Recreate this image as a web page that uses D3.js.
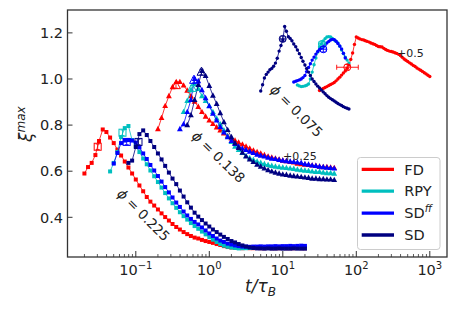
<!DOCTYPE html>
<html><head><meta charset="utf-8">
<script src="https://cdn.jsdelivr.net/npm/d3@7"></script>
<style>
html,body{margin:0;padding:0;background:#fff;}
svg{display:block;font-family:"DejaVu Sans",sans-serif;}
</style></head><body>
<svg id="chart" width="463" height="309"></svg>
<script>
// ---------------- DATA ----------------
// time grids (t / tau_B) for each volume fraction
const t225 = [0.0200,0.0224,0.0251,0.0282,0.0316,0.0355,0.0398,0.0447,0.0501,0.0562,0.0631,0.0708,0.0794,0.0891,0.100,0.112,0.126,0.141,0.158,0.178,0.200,0.224,0.251,0.282,0.316,0.355,0.398,0.447,0.501,0.562,0.631,0.708,0.794,0.891,1.00,1.12,1.26,1.41,1.58,1.78,2.00,2.24,2.51,2.82,3.16,3.55,3.98,4.47,5.01,5.62,6.31,7.08,7.94,8.91,10.0,11.2,12.6,14.1,15.8,17.8,20.0];
const t138 = [0.200,0.224,0.251,0.282,0.316,0.355,0.398,0.447,0.501,0.562,0.631,0.708,0.794,0.891,1.00,1.12,1.26,1.41,1.58,1.78,2.00,2.24,2.51,2.82,3.16,3.55,3.98,4.47,5.01,5.62,6.31,7.08,7.94,8.91,10.0,11.2,12.6,14.1,15.8,17.8,20.0,22.4,25.1,28.2,31.6,35.5,39.8,44.7,50.1];
const t075 = [5.01,5.31,5.62,5.96,6.31,6.68,7.08,7.50,7.94,8.41,8.91,9.44,10.0,10.6,11.2,11.9,12.6,13.3,14.1,15.0,15.8,16.8,17.8,18.8,20.0,21.1,22.4,23.7,25.1,26.6,28.2,29.9,31.6,33.5,35.5,37.6,39.8,42.2,44.7,47.3,50.1,53.1,56.2,59.6,63.1,66.8,70.8,75.0,79.4,84.1,89.1,94.4,100,106,112,119,126,133,141,150,158,168,178,188,200,211,224,237,251,266,282,299,316,335,355,376,398,422,447,473,501,531,562,596,631,668,708,750,794,841,891,944,1000];

// phi = 0.225 (squares)
const fd225 = [0.590,0.618,0.636,0.670,0.731,0.781,0.770,0.746,0.722,0.694,0.668,0.642,0.616,0.590,0.564,0.538,0.513,0.488,0.468,0.451,0.434,0.417,0.401,0.386,0.371,0.358,0.347,0.336,0.327,0.319,0.312,0.308,0.302,0.297,0.293,0.289,0.284,0.280,0.275,0.271,0.269,0.267,0.267,0.266,0.267,0.266,0.266,0.267,0.266,0.266,0.267,0.266,0.266,0.266,0.267,0.266,0.266,0.266,0.267,0.266,0.266];
const rpy225 = [null,null,null,null,null,null,null,0.599,0.636,0.683,0.748,0.787,0.796,0.735,0.709,0.683,0.655,0.630,0.603,0.578,0.553,0.529,0.505,0.482,0.461,0.441,0.422,0.405,0.390,0.375,0.362,0.350,0.338,0.326,0.314,0.303,0.293,0.284,0.277,0.272,0.269,0.267,0.265,0.266,0.266,0.267,0.267,0.267,0.268,0.268,0.268,0.268,0.269,0.268,0.268,0.269,0.268,0.268,0.269,0.268,0.268];
const sdff225 = [null,null,null,null,null,null,null,null,0.633,0.679,0.722,0.733,0.735,0.733,0.724,0.703,0.677,0.653,0.627,0.603,0.579,0.555,0.531,0.508,0.486,0.464,0.445,0.425,0.408,0.393,0.380,0.369,0.356,0.343,0.330,0.319,0.308,0.299,0.293,0.286,0.282,0.278,0.275,0.273,0.273,0.272,0.273,0.273,0.274,0.273,0.274,0.274,0.275,0.274,0.275,0.275,0.276,0.275,0.276,0.277,0.276];
const sd225 = [null,null,null,null,null,null,null,null,null,null,null,null,0.636,0.646,0.705,0.761,0.777,0.757,0.731,0.705,0.677,0.651,0.623,0.594,0.568,0.544,0.516,0.490,0.465,0.442,0.420,0.403,0.388,0.373,0.360,0.347,0.336,0.325,0.315,0.306,0.297,0.291,0.284,0.278,0.273,0.269,0.267,0.265,0.265,0.264,0.265,0.264,0.264,0.265,0.264,0.264,0.264,0.265,0.264,0.264,0.264];

// phi = 0.138 (triangles, shifted by +0.25)
const fd138 = [0.783,0.831,0.883,0.926,0.965,0.987,0.987,0.972,0.950,0.926,0.902,0.879,0.857,0.837,0.820,0.805,0.790,0.777,0.764,0.753,0.742,0.733,0.724,0.716,0.707,0.698,0.690,0.683,0.677,0.670,0.664,0.659,0.655,0.651,0.646,0.644,0.640,0.638,0.633,0.631,0.629,0.627,0.625,0.623,0.620,0.618,0.618,0.616,0.614];
const rpy138 = [null,null,null,null,null,null,null,0.857,0.905,0.952,0.978,0.957,0.926,0.905,0.883,0.857,0.829,0.803,0.777,0.751,0.727,0.707,0.692,0.679,0.666,0.657,0.649,0.642,0.636,0.631,0.627,0.623,0.620,0.618,0.616,0.614,0.612,0.610,0.607,0.605,0.603,0.601,0.599,0.597,0.597,0.594,0.592,0.592,0.590];
const sdff138 = [null,null,null,null,null,null,0.783,0.804,0.857,0.909,1.000,0.991,0.952,0.917,0.882,0.850,0.820,0.792,0.768,0.748,0.731,0.718,0.707,0.698,0.692,0.685,0.679,0.672,0.668,0.664,0.659,0.655,0.653,0.649,0.646,0.644,0.642,0.640,0.638,0.636,0.631,0.629,0.625,0.623,0.620,0.618,0.616,0.614,0.612];
const sd138 = [null,null,null,null,null,null,null,null,0.800,0.843,0.909,0.974,1.035,1.013,0.970,0.928,0.892,0.852,0.813,0.779,0.748,0.722,0.701,0.681,0.664,0.651,0.640,0.629,0.620,0.612,0.605,0.599,0.594,0.590,0.586,0.584,0.581,0.579,0.577,0.575,0.573,0.571,0.568,0.568,0.566,0.566,0.564,0.564,0.562];

// phi = 0.075 (circles, shifted by +0.5); each series starts at the given time of t075
const fd075Start = 31.6;
const fd075 = [0.950,0.955,0.959,0.963,0.967,0.972,0.976,0.980,0.985,0.992,1.000,1.008,1.017,1.026,1.035,1.047,1.061,1.085,1.113,1.150,1.182,1.178,1.174,1.171,1.169,1.166,1.163,1.160,1.156,1.153,1.150,1.145,1.141,1.140,1.139,1.133,1.128,1.124,1.121,1.119,1.117,1.114,1.111,1.107,1.102,1.094,1.087,1.081,1.076,1.070,1.065,1.059,1.054,1.048,1.043,1.038,1.033,1.027,1.022,1.016,1.011];
const rpy075Start = 15.8;
const rpy075 = [0.974,0.970,0.967,0.968,0.970,0.973,0.978,1.000,1.030,1.062,1.091,1.117,1.139,1.153,1.165,1.175,1.182,1.184,1.182,1.176,1.169,1.163,1.156,1.142,1.126,1.110,1.095,1.082,1.069];
const sdff075Start = 14.1;
const sdff075 = [0.987,0.990,0.993,0.996,1.000,1.006,1.015,1.032,1.050,1.066,1.082,1.095,1.108,1.119,1.128,1.134,1.139,1.148,1.156,1.163,1.169,1.172,1.171,1.164,1.154,1.143,1.130,1.112,1.091];
const sd075Start = 5.01;
const sd075 = [0.948,0.975,1.004,1.020,1.030,1.040,1.046,1.055,1.069,1.090,1.121,1.145,1.169,1.228,1.207,1.183,1.176,1.166,1.152,1.140,1.126,1.110,1.093,1.077,1.061,1.045,1.030,1.015,1.000,0.989,0.978,0.969,0.961,0.952,0.944,0.936,0.928,0.921,0.915,0.910,0.905,0.899,0.894,0.889,0.885,0.880,0.876,0.873,0.870];

// characteristic points (open markers with error bars): order FD, RPY, SDff, SD
const char225T = [0.0303,0.0659,0.0752,0.1088];
const char225Xi = [0.706,0.767,0.727,0.727];
const char138T = [0.352,0.582,0.619,0.783];
const char138Xi = [0.972,0.960,0.995,1.030];
const char075T = [75.4,34.1,35.6,9.97];
const char075Xi = [1.051,1.152,1.129,1.174];
const char075TLo = [54.1,31.0,32.5,9.2];
const char075THi = [106.4,37.5,39.0,10.8];
const charErr = [0.012,0.012,0.012,0.012];

const seriesNames = ["FD","RPY","SD","SD"];
const seriesColors = ["#ff0000","#00bfbf","#0000ff","#000080"];
const xTicks = [0.1,1,10,100,1000];
const xTickExp = ["\u22121","0","1","2","3"];
const yTicks = [0.4,0.6,0.8,1.0,1.2];

// ---------------- CHART ----------------
const svg = d3.select("#chart");
const P = {left:67.5,right:447,top:10,bottom:257};
const x = d3.scaleLog().domain([0.01177,1714]).range([P.left,P.right]);
const y = d3.scaleLinear().domain([0.2278,1.2993]).range([P.bottom,P.top]);

svg.append("rect").attr("width",463).attr("height",309).attr("fill","#fff");
svg.append("clipPath").attr("id","clip").append("rect")
  .attr("x",P.left).attr("y",P.top).attr("width",P.right-P.left).attr("height",P.bottom-P.top);
const g = svg.append("g").attr("clip-path","url(#clip)");

function aligned(tArr, vals, start){
  const off = start==null ? 0 : tArr.indexOf(start);
  return vals.map((v,i)=>[tArr[off+i], v]);
}

const groups = [
  {series:[aligned(t225,fd225),aligned(t225,rpy225),aligned(t225,sdff225),aligned(t225,sd225)], shape:"square", size:4},
  {series:[aligned(t138,fd138),aligned(t138,rpy138),aligned(t138,sdff138),aligned(t138,sd138)], shape:"triangle", size:5.3},
  {series:[aligned(t075,fd075,fd075Start),aligned(t075,rpy075,rpy075Start),aligned(t075,sdff075,sdff075Start),aligned(t075,sd075,sd075Start)], shape:"circle", size:3.4}
];

const line = d3.line().defined(d=>d[1]!=null).x(d=>x(d[0])).y(d=>y(d[1]));

function marker(sel, shape, color, size, open){
  const fill = open ? "none" : color;
  if(shape==="square"){
    sel.append("rect").attr("x",-size/2).attr("y",-size/2).attr("width",size).attr("height",size)
      .attr("fill",fill).attr("stroke",open?color:"none").attr("stroke-width",1);
  } else if(shape==="triangle"){
    const s = size;
    sel.append("path").attr("d",`M0,${-s*0.62}L${s*0.55},${s*0.4}L${-s*0.55},${s*0.4}Z`)
      .attr("fill",fill).attr("stroke",open?color:"none").attr("stroke-width",1);
  } else {
    sel.append("circle").attr("r",size/2).attr("fill",fill).attr("stroke",open?color:"none").attr("stroke-width",1);
  }
}

groups.forEach(grp=>{
  grp.series.forEach((pts,si)=>{
    const color = seriesColors[si];
    g.append("path").datum(pts).attr("d",line).attr("fill","none")
      .attr("stroke",color).attr("stroke-width",0.8);
    pts.filter(d=>d[1]!=null).forEach(d=>{
      const m = g.append("g").attr("transform",`translate(${x(d[0])},${y(d[1])})`);
      marker(m, grp.shape, color, grp.size, false);
    });
  });
});

// characteristic open markers
function charMarkers(T,Xi,shape,size,tlo,thi){
  T.forEach((t,i)=>{
    const color = seriesColors[i];
    const cx = x(t), cy = y(Xi[i]);
    const e = charErr[i];
    g.append("line").attr("x1",cx).attr("x2",cx).attr("y1",y(Xi[i]-e)).attr("y2",y(Xi[i]+e))
      .attr("stroke",color).attr("stroke-width",0.9);
    [Xi[i]-e,Xi[i]+e].forEach(v=>g.append("line").attr("x1",cx-2).attr("x2",cx+2)
      .attr("y1",y(v)).attr("y2",y(v)).attr("stroke",color).attr("stroke-width",0.9));
    if(tlo){
      g.append("line").attr("x1",x(tlo[i])).attr("x2",x(thi[i])).attr("y1",cy).attr("y2",cy)
        .attr("stroke",color).attr("stroke-width",0.9);
      [tlo[i],thi[i]].forEach(tt=>g.append("line").attr("x1",x(tt)).attr("x2",x(tt))
        .attr("y1",cy-2.5).attr("y2",cy+2.5).attr("stroke",color).attr("stroke-width",0.9));
    }
    const m = g.append("g").attr("transform",`translate(${cx},${cy})`);
    marker(m, shape, color, size, true);
  });
}
charMarkers(char225T,char225Xi,"square",7);
charMarkers(char138T,char138Xi,"triangle",8);
charMarkers(char075T,char075Xi,"circle",7,char075TLo,char075THi);

// frame
svg.append("rect").attr("x",P.left).attr("y",P.top).attr("width",P.right-P.left).attr("height",P.bottom-P.top)
  .attr("fill","none").attr("stroke","#333").attr("stroke-width",1.3);

// x ticks
const ax = svg.append("g");
const minor = [];
[0.01,0.1,1,10,100,1000].forEach(dec=>{for(let k=2;k<=9;k++){const v=dec*k; if(v>x.domain()[0]&&v<x.domain()[1]) minor.push(v);}});
minor.forEach(v=>ax.append("line").attr("x1",x(v)).attr("x2",x(v)).attr("y1",P.bottom).attr("y2",P.bottom-3)
  .attr("stroke","#333").attr("stroke-width",0.8));
xTicks.forEach((v,i)=>{
  ax.append("line").attr("x1",x(v)).attr("x2",x(v)).attr("y1",P.bottom).attr("y2",P.bottom-6)
    .attr("stroke","#333").attr("stroke-width",1);
  const tx = ax.append("text").attr("x",x(v)).attr("y",275).attr("text-anchor","middle")
    .attr("font-size",14.5).attr("fill","#222");
  tx.append("tspan").text("10");
  tx.append("tspan").attr("font-size",10).attr("dy",-6).text(xTickExp[i]);
});
// y ticks
yTicks.forEach(v=>{
  ax.append("line").attr("x1",P.left).attr("x2",P.left+5).attr("y1",y(v)).attr("y2",y(v))
    .attr("stroke","#333").attr("stroke-width",1);
  ax.append("text").attr("x",63).attr("y",y(v)).attr("dy","0.36em").attr("text-anchor","end")
    .attr("font-size",14.5).attr("fill","#222").text(d3.format(".1f")(v));
});

// axis labels
const xl = svg.append("text").attr("x",245).attr("y",292).attr("font-size",17).attr("fill","#222");
xl.append("tspan").attr("font-style","italic").text("t/\u03c4");
xl.append("tspan").attr("font-style","italic").attr("font-size",12).attr("dy",4).text("B");
const yl = svg.append("text").attr("transform","translate(32,142) rotate(-90)").attr("font-size",17).attr("fill","#222");
yl.append("tspan").attr("font-style","italic").text("\u03be");
yl.append("tspan").attr("font-style","italic").attr("font-size",12).attr("dy",-7).text("max");

// annotations
function phiLabel(cx,cy,ang,val){
  const t = svg.append("text").attr("transform",`translate(${cx},${cy}) rotate(${ang})`)
    .attr("text-anchor","middle").attr("dy","0.35em").attr("font-size",13.5).attr("fill","#222");
  t.append("tspan").attr("font-style","italic").text("\u03d5");
  t.append("tspan").text(" = "+val);
}
phiLabel(143.5,215,45,"0.225");
phiLabel(218.5,157,44,"0.138");
phiLabel(296.5,111,45,"0.075");
svg.append("text").attr("x",283).attr("y",160).attr("font-size",11).attr("fill","#222").text("+0.25");
svg.append("text").attr("x",397).attr("y",56.5).attr("font-size",11).attr("fill","#222").text("+0.5");

// legend
const lg = svg.append("g");
lg.append("rect").attr("x",357.5).attr("y",157.5).attr("width",82.5).attr("height",92).attr("rx",3)
  .attr("fill","#fff").attr("fill-opacity",0.85).attr("stroke","#ccc").attr("stroke-width",1);
seriesNames.forEach((n,i)=>{
  const yy = 169.3 + i*21.9;
  lg.append("line").attr("x1",361.7).attr("x2",394).attr("y1",yy).attr("y2",yy)
    .attr("stroke",seriesColors[i]).attr("stroke-width",3.3);
  const t = lg.append("text").attr("x",404.3).attr("y",yy).attr("dy","0.36em").attr("font-size",14.5).attr("fill","#222");
  t.append("tspan").text(n);
  if(i===2) t.append("tspan").attr("font-style","italic").attr("font-size",10).attr("dy",-6).text("ff");
});
</script>
</body></html>
